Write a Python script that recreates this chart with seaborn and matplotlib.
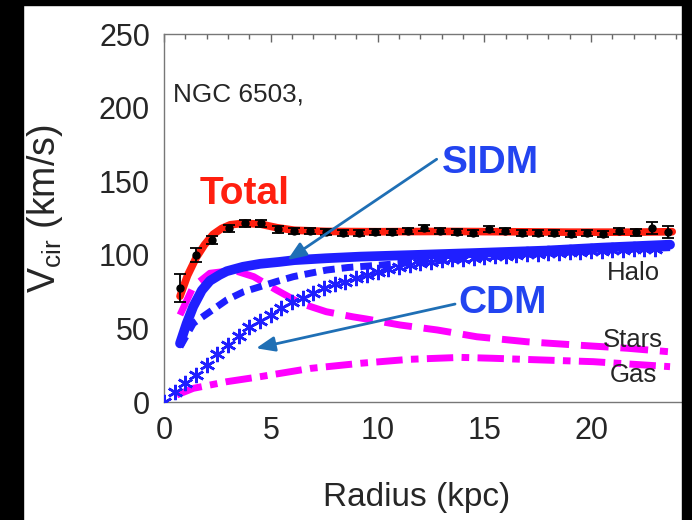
#!/usr/bin/env python3
"""
NGC 6503 rotation curve: total fit vs data, SIDM / CDM halos, stars and gas.
"""

import matplotlib
matplotlib.use('Agg')
import matplotlib.pyplot as plt
from matplotlib.patches import Rectangle
from matplotlib.ticker import MultipleLocator
import seaborn as sns

# observed rotation curve (kpc, km/s)
r_obs = [0.75, 1.51, 2.27, 3.04, 3.80, 4.56, 5.32, 6.08, 6.85, 7.61, 8.37,
         9.13, 9.89, 10.66, 11.42, 12.18, 12.94, 13.70, 14.47, 15.23, 15.99,
         16.75, 17.51, 18.28, 19.04, 19.80, 20.56, 21.32, 22.09, 22.85, 23.62]
v_obs = [77.4, 100.0, 110.2, 118.1, 121.5, 121.5, 117.4, 116.3, 116.3, 115.8,
         115.1, 115.1, 115.5, 115.5, 116.5, 118.5, 116.4, 115.8, 114.7, 117.4,
         116.3, 115.1, 115.1, 115.1, 114.0, 115.1, 114.0, 116.3, 115.4, 118.5,
         115.4]
v_err = [9.5, 5.0, 2.5, 2.5, 2.2, 2.2, 2.2, 2.0, 2.0, 2.0, 2.0, 2.0, 2.0, 2.0,
         2.0, 2.0, 2.0, 2.0, 2.0, 2.0, 2.0, 2.0, 2.0, 2.0, 2.0, 2.0, 2.0, 2.2,
         2.2, 4.2, 4.2]

# total fit (red)
r_total = [0.75, 1.1, 1.5, 1.9, 2.3, 2.7, 3.1, 3.7, 4.5, 5.3, 6.1, 7.6, 10.0,
           13.0, 16.0, 19.0, 22.0, 23.8]
v_total = [72.0, 86.0, 98.0, 107.0, 114.0, 118.0, 120.5, 121.5, 121.0, 118.5,
           116.8, 116.0, 115.8, 116.0, 115.8, 115.5, 115.5, 115.8]

# SIDM halo (solid blue)
r_sidm = [0.75, 1.06, 1.37, 1.77, 2.15, 2.6, 2.94, 3.7, 4.5, 5.4, 6.1, 7.6,
          9.2, 11.7, 14.5, 17.9, 20.5, 23.7]
v_sidm = [40.0, 53.5, 65.0, 76.0, 82.5, 86.5, 89.0, 92.0, 94.0, 95.3, 96.5,
          97.8, 98.9, 100.0, 101.3, 103.0, 105.0, 107.0]

# halo curve (dashed blue)
r_dash = [0.75, 1.37, 2.15, 2.94, 3.72, 4.5, 5.27, 6.06, 6.84, 7.62, 8.6,
          10.0, 12.0, 15.0, 18.0, 21.0, 23.7]
v_dash = [37.7, 53.6, 61.5, 69.5, 75.0, 78.5, 82.0, 85.3, 87.6, 89.8, 91.5,
          93.0, 95.3, 98.6, 101.4, 103.4, 105.0]

# CDM halo (blue asterisks)
r_cdm = [0.0, 0.5, 1.0, 1.5, 2.0, 2.5, 3.0, 3.5, 4.0, 4.5, 5.0, 5.5, 6.0, 6.5,
         7.0, 7.5, 8.0, 8.5, 9.0, 9.5, 10.0, 10.5, 11.0, 11.5, 12.0, 12.5,
         13.0, 13.5, 14.0, 14.5, 15.0, 15.5, 16.0, 16.5, 17.0, 17.5, 18.0,
         18.5, 19.0, 19.5, 20.0, 20.5, 21.0, 21.5, 22.0, 22.5, 23.0]
v_cdm = [0.0, 7.0, 12.8, 18.6, 25.5, 32.5, 38.8, 45.0, 51.0, 55.5, 59.5, 64.0,
         68.0, 71.0, 74.0, 77.5, 80.0, 82.0, 84.5, 86.5, 88.5, 90.5, 92.0,
         93.5, 94.5, 95.5, 96.3, 97.0, 97.6, 98.1, 98.5, 99.0, 99.5, 100.0,
         100.4, 100.8, 101.2, 101.6, 102.0, 102.3, 102.6, 102.9, 103.2, 103.5,
         103.8, 104.1, 104.4]

# stars (magenta dashed)
r_stars = [0.75, 1.37, 2.15, 2.94, 3.4, 4.2, 5.27, 6.4, 7.6, 8.86, 9.5, 11.05,
           12.8, 14.65, 17.0, 19.3, 21.7, 23.6]
v_stars = [59.3, 78.5, 87.6, 89.0, 89.0, 85.3, 76.2, 67.2, 61.5, 58.0, 56.5,
           52.5, 49.1, 44.5, 41.1, 38.9, 36.7, 34.4]

# gas (magenta dash-dot)
r_gas = [0.6, 1.37, 2.94, 4.5, 6.84, 9.2, 11.5, 13.9, 15.4, 17.8, 20.1, 23.7]
v_gas = [5.0, 9.5, 14.0, 17.4, 23.0, 26.5, 29.2, 30.5, 29.9, 28.7, 27.6, 24.2]

BLUE = '#1f1fff'
MAGENTA = '#ff00ff'
RED = '#ff1f0f'
ARROW = '#1f6fb5'
TEXT_BLUE = '#2244f0'


def draw_curves(ax):
    """Model curves, drawn back to front."""
    sns.lineplot(x=r_gas, y=v_gas, ax=ax, color=MAGENTA, lw=5,
                 linestyle=(0, (3.8, 1.2, 1.1, 1.2)), estimator=None, zorder=2)
    sns.lineplot(x=r_stars, y=v_stars, ax=ax, color=MAGENTA, lw=5,
                 linestyle=(0, (4.0, 1.7)), estimator=None, zorder=2)
    sns.lineplot(x=r_cdm, y=v_cdm, ax=ax, color=BLUE, linestyle='none',
                 marker=(6, 2, 0), markersize=11, markeredgecolor=BLUE,
                 markeredgewidth=1.8, estimator=None, zorder=3)
    sns.lineplot(x=r_dash, y=v_dash, ax=ax, color=BLUE, lw=5,
                 linestyle=(0, (1.7, 1.0)), estimator=None, zorder=3)
    sns.lineplot(x=r_sidm, y=v_sidm, ax=ax, color=BLUE, lw=7,
                 estimator=None, zorder=4)
    sns.lineplot(x=r_total, y=v_total, ax=ax, color=RED, lw=5.5,
                 estimator=None, zorder=5)
    ax.errorbar(r_obs, v_obs, yerr=v_err, fmt='o', color='black', ms=5,
                capsize=4, elinewidth=1.3, capthick=1.3, zorder=6)


def annotate(ax):
    """Labels and arrows inside the panel."""
    ax.text(0.42, 204.5, 'NGC 6503,', fontsize=18.8, va='baseline')
    ax.text(1.69, 134.6, 'Total', fontsize=28, fontweight='bold', color=RED,
            va='baseline')
    ax.text(13.0, 155.7, 'SIDM', fontsize=28, fontweight='bold',
            color=TEXT_BLUE, va='baseline')
    ax.text(13.77, 60.7, 'CDM', fontsize=28, fontweight='bold',
            color=TEXT_BLUE, va='baseline')
    ax.text(20.73, 83.0, 'Halo', fontsize=18.5, va='baseline')
    ax.text(20.56, 37.5, 'Stars', fontsize=18.5, va='baseline')
    ax.text(20.89, 13.8, 'Gas', fontsize=18.5, va='baseline')

    style = '-|>,head_length=0.75,head_width=0.3'
    ax.annotate('', xy=(5.78, 96.6), xytext=(12.77, 165.0),
                arrowprops=dict(arrowstyle=style, color=ARROW, lw=2,
                                mutation_scale=15, shrinkA=0, shrinkB=0),
                zorder=7)
    ax.annotate('', xy=(4.31, 36.7), xytext=(13.63, 66.7),
                arrowprops=dict(arrowstyle=style, color=ARROW, lw=2,
                                mutation_scale=15, shrinkA=0, shrinkB=0),
                zorder=7)


def main():
    sns.set_theme(style='white')
    plt.rcParams['font.family'] = ['Liberation Sans', 'DejaVu Sans']
    plt.rcParams['mathtext.fontset'] = 'custom'
    plt.rcParams['mathtext.rm'] = 'Liberation Sans'

    fig = plt.figure(figsize=(6.92, 5.2), dpi=100)
    ax = fig.add_axes([0.237, 0.2263, 0.7714, 0.7083])

    draw_curves(ax)
    annotate(ax)

    ax.set_xlim(0, 25)
    ax.set_ylim(0, 250)
    ax.xaxis.set_major_locator(MultipleLocator(5))
    ax.xaxis.set_minor_locator(MultipleLocator(1))
    ax.yaxis.set_major_locator(MultipleLocator(50))
    ax.yaxis.set_minor_locator(MultipleLocator(10))
    ax.tick_params(which='both', direction='in', top=True, right=True,
                   color='#666666', width=1, labelsize=22, pad=10)
    ax.tick_params(which='major', length=6)
    ax.tick_params(which='minor', length=3.5)
    for spine in ax.spines.values():
        spine.set_color('#777777')
        spine.set_linewidth(1)

    ax.set_xlabel('Radius (kpc)', fontsize=24)
    ax.set_ylabel('V$_{\\mathrm{cir}}$ (km/s)', fontsize=27)
    ax.xaxis.set_label_coords(0.474, -0.216)
    ax.yaxis.set_label_coords(-0.185, 0.525)

    # black border of the original screenshot
    for x0, y0, w, h in [(0, 0, 23 / 692, 1), (0, 1 - 5 / 520, 1, 5 / 520),
                         (682 / 692, 0, 10 / 692, 1)]:
        fig.add_artist(Rectangle((x0, y0), w, h, transform=fig.transFigure,
                                 color='black', zorder=20))

    fig.savefig('out.png', dpi=100)
    plt.close(fig)


if __name__ == '__main__':
    main()
